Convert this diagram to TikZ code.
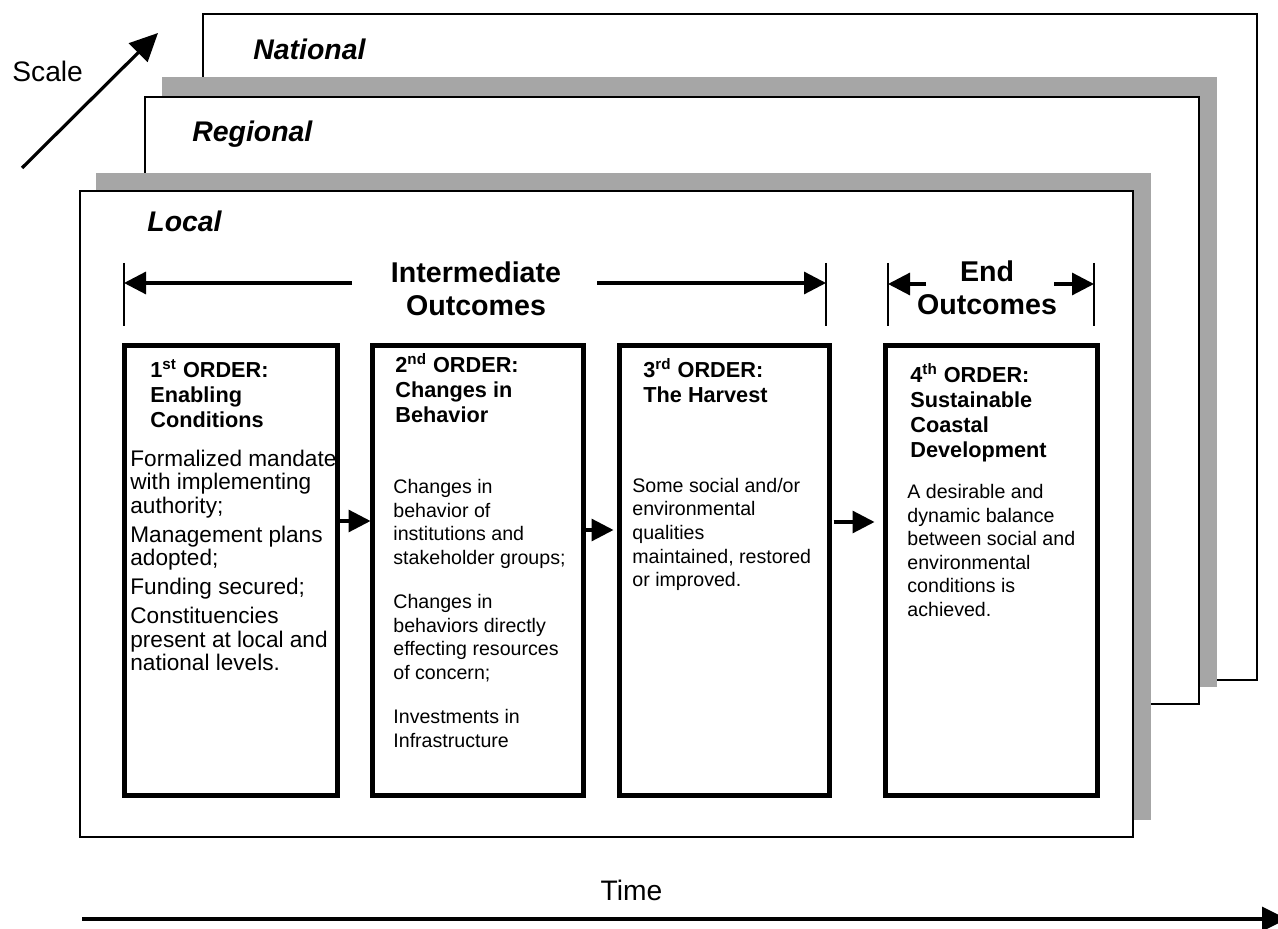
\documentclass[tikz,border=0pt]{standalone}
\usepackage{fontspec}
\setmainfont{Liberation Sans}
\usetikzlibrary{arrows.meta}
\definecolor{shadowgray}{RGB}{166,166,166}
\newcommand\myrule[1]{\rule{0pt}{#1}}
\begin{document}
\begin{tikzpicture}[x=0.5pt,y=-0.5pt,
  frame/.style={draw=black, line width=1.4pt, fill=white},
  shade/.style={fill=shadowgray},
  obox/.style={draw=black, line width=2.5pt, fill=white, inner sep=0pt, outer sep=0pt},
  arr/.style={line width=1.6pt, -{Triangle[length=11pt,width=11pt]}},
  bar/.style={line width=1.4pt},
  lvl/.style={anchor=base west, inner sep=0pt, font=\fontsize{14.2}{17}\selectfont\bfseries\itshape},
  hdr/.style={anchor=north, inner sep=0pt, align=center, font=\fontsize{14.3}{16.5}\selectfont\bfseries},
  ttl/.style={anchor=north west, inner sep=0pt, align=left, font=\fontsize{10.85}{12.5}\selectfont\bfseries},
  bodyA/.style={anchor=north west, inner sep=0pt, align=left, font=\fontsize{11.3}{11.75}\selectfont},
  bodyB/.style={anchor=north west, inner sep=0pt, align=left, font=\fontsize{9.8}{11.8}\selectfont},
  plain/.style={inner sep=0pt, font=\fontsize{14.1}{17}\selectfont}
]
\useasboundingbox (0,0) rectangle (1278,929);

% scale frames
\path[frame] (203,14) rectangle (1257,680);
\path[shade] (162,77) rectangle (1217,687);
\path[frame] (145,97) rectangle (1199,704);
\path[shade] (96,173) rectangle (1151,820);
\path[frame] (80,191) rectangle (1133,837);

\node[lvl] (national) at (253,60) {National};
\node[lvl] (regional) at (192,142) {Regional};
\node[lvl] (local) at (147,232) {Local};

% scale arrow
\node[plain, anchor=base west] (scale) at (12,82) {Scale};
\coordinate (scTail) at (22,168);
\coordinate (scTip) at (158,33);
\draw[line width=1.6pt, -{Triangle[length=14pt,width=13pt]}] (scTail) -- (scTip);

% time arrow
\node[plain, anchor=base] (time) at (631.5,900) {Time};
\coordinate (tmTail) at (82,919);
\coordinate (tmTip) at (1287,919);
\draw[line width=1.6pt, -{Triangle[length=12.5pt,width=12pt]}] (tmTail) -- (tmTip);

% headers
\node[hdr] (inter) at (476,250) {\myrule{16pt}Intermediate\\Outcomes};
\node[hdr] (endo) at (987,249) {\myrule{16pt}End\\Outcomes};

\coordinate (barA1) at (124,263); \coordinate (barA2) at (124,326);
\coordinate (barB1) at (826,263); \coordinate (barB2) at (826,326);
\coordinate (barC1) at (888,263); \coordinate (barC2) at (888,326);
\coordinate (barD1) at (1094,263); \coordinate (barD2) at (1094,326);
\draw[bar] (barA1) -- (barA2);
\draw[bar] (barB1) -- (barB2);
\draw[bar] (barC1) -- (barC2);
\draw[bar] (barD1) -- (barD2);

\coordinate (iLt) at (352,283); \coordinate (iLh) at (124,283);
\coordinate (iRt) at (597,283); \coordinate (iRh) at (826,283);
\coordinate (eLt) at (926,284); \coordinate (eLh) at (888,284);
\coordinate (eRt) at (1054,284); \coordinate (eRh) at (1094,284);
\draw[arr] (iLt) -- (iLh);
\draw[arr] (iRt) -- (iRh);
\draw[arr] (eLt) -- (eLh);
\draw[arr] (eRt) -- (eRh);

% order boxes
\node[obox, minimum width=106.5pt, minimum height=225pt] (b1) at (231,570.5) {};
\node[obox, minimum width=105.5pt, minimum height=225pt] (b2) at (478,570.5) {};
\node[obox, minimum width=105pt, minimum height=225pt] (b3) at (724.5,570.5) {};
\node[obox, minimum width=106pt, minimum height=225pt] (b4) at (991.5,570.5) {};

\node[ttl] (t1) at (150,353) {\myrule{12pt}1\textsuperscript{st} ORDER:\\Enabling\\Conditions};
\node[bodyA] (p1) at (130,442) {\myrule{12pt}Formalized mandate\\with implementing\\authority;\\[2.75pt]Management plans\\adopted;\\[2.75pt]Funding secured;\\[2.75pt]Constituencies\\present at local and\\national levels.};

\node[ttl] (t2) at (395,348) {\myrule{12pt}2\textsuperscript{nd} ORDER:\\Changes in\\Behavior};
\node[bodyB] (p2) at (393,469) {\myrule{12pt}Changes in\\behavior of\\institutions and\\stakeholder groups;\\[10.3pt]Changes in\\behaviors directly\\effecting resources\\of concern;\\[10.3pt]Investments in\\Infrastructure};

\node[ttl] (t3) at (643,353) {\myrule{12pt}3\textsuperscript{rd} ORDER:\\The Harvest};
\node[bodyB] (p3) at (632,468) {\myrule{12pt}Some social and/or\\environmental\\qualities\\maintained, restored\\or improved.};

\node[ttl] (t4) at (910,358) {\myrule{12pt}4\textsuperscript{th} ORDER:\\Sustainable\\Coastal\\Development};
\node[bodyB] (p4) at (907,474) {\myrule{12pt}A desirable and\\dynamic balance\\between social and\\environmental\\conditions is\\achieved.};

% connectors between boxes
\draw[arr, shorten >=1pt] (b1.east |- 0,521) -- (b2.west |- 0,521);
\draw[arr, shorten >=3pt] (b2.east |- 0,530) -- (b3.west |- 0,530);
\draw[arr, shorten <=2pt, shorten >=5.5pt] (b3.east |- 0,522) -- (b4.west |- 0,522);
\end{tikzpicture}
\end{document}
